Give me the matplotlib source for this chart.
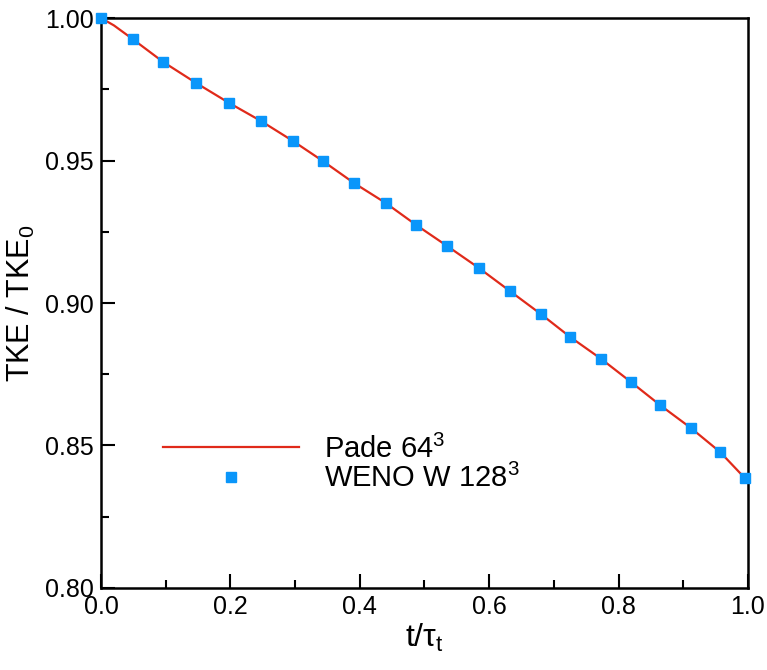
import numpy as np
import matplotlib
matplotlib.use('Agg')
import matplotlib.pyplot as plt
from matplotlib.ticker import MultipleLocator

plt.rcParams['font.family'] = ['Liberation Sans', 'DejaVu Sans']
plt.rcParams['mathtext.fontset'] = 'custom'
plt.rcParams['mathtext.rm'] = 'Liberation Sans'
plt.rcParams['mathtext.default'] = 'regular'

# Pade 64^3 curve
t_pade = [0.0, 0.02, 0.049, 0.096, 0.147, 0.198, 0.247, 0.297, 0.343, 0.391, 0.440,
          0.487, 0.535, 0.584, 0.632, 0.680, 0.725, 0.773, 0.819, 0.864, 0.912,
          0.957, 0.995, 1.0]
tke_pade = [1.0, 0.9974, 0.9926, 0.9846, 0.9772, 0.9702, 0.9639, 0.9568, 0.9498,
            0.9421, 0.9351, 0.9274, 0.9200, 0.9123, 0.9042, 0.8961, 0.8881, 0.8804,
            0.8723, 0.8642, 0.8561, 0.8477, 0.8386, 0.8375]

# WENO W 128^3 samples
t_weno = [0.0, 0.049, 0.096, 0.147, 0.198, 0.247, 0.297, 0.343, 0.391, 0.440,
          0.487, 0.535, 0.584, 0.632, 0.680, 0.725, 0.773, 0.819, 0.864, 0.912,
          0.957, 0.995]
tke_weno = [1.0, 0.9926, 0.9846, 0.9772, 0.9702, 0.9639, 0.9568, 0.9498, 0.9421,
            0.9351, 0.9274, 0.9200, 0.9123, 0.9042, 0.8961, 0.8881, 0.8804, 0.8723,
            0.8642, 0.8561, 0.8477, 0.8386]

fig = plt.figure(figsize=(7.67, 6.70), dpi=100)
ax = fig.add_axes([0.1317, 0.1224, 0.8435, 0.8507])

ax.plot(t_pade, tke_pade, color='#e02a1a', lw=1.6, label='Pade 64$^3$', zorder=2)
ax.plot(t_weno, tke_weno, ls='none', marker='s', ms=7.5, color='#0a96fa',
        mec='#0a96fa', label='WENO W 128$^3$', zorder=3, clip_on=False)

ax.set_xlim(0, 1)
ax.set_ylim(0.80, 1.00)
ax.xaxis.set_major_locator(MultipleLocator(0.2))
ax.xaxis.set_minor_locator(MultipleLocator(0.1))
ax.yaxis.set_major_locator(MultipleLocator(0.05))
ax.yaxis.set_minor_locator(MultipleLocator(0.025))
ax.xaxis.set_major_formatter(matplotlib.ticker.FormatStrFormatter('%.1f'))
ax.yaxis.set_major_formatter(matplotlib.ticker.FormatStrFormatter('%.2f'))

ax.tick_params(which='both', direction='in', top=False, right=False, width=1.5,
               labelsize=18)
ax.tick_params(which='major', length=10, pad=5)
ax.tick_params(which='minor', length=6)
for sp in ax.spines.values():
    sp.set_linewidth(1.8)

ax.set_xlabel('t/τ$_t$', fontsize=23, labelpad=2)
ax.set_ylabel('TKE / TKE$_0$', fontsize=22, labelpad=6)

ax.legend(loc='upper left', bbox_to_anchor=(0.078, 0.29), frameon=False,
          fontsize=21, handlelength=4.66, handletextpad=0.85, labelspacing=0.0,
          borderaxespad=0)

fig.savefig('out.png', dpi=100)
